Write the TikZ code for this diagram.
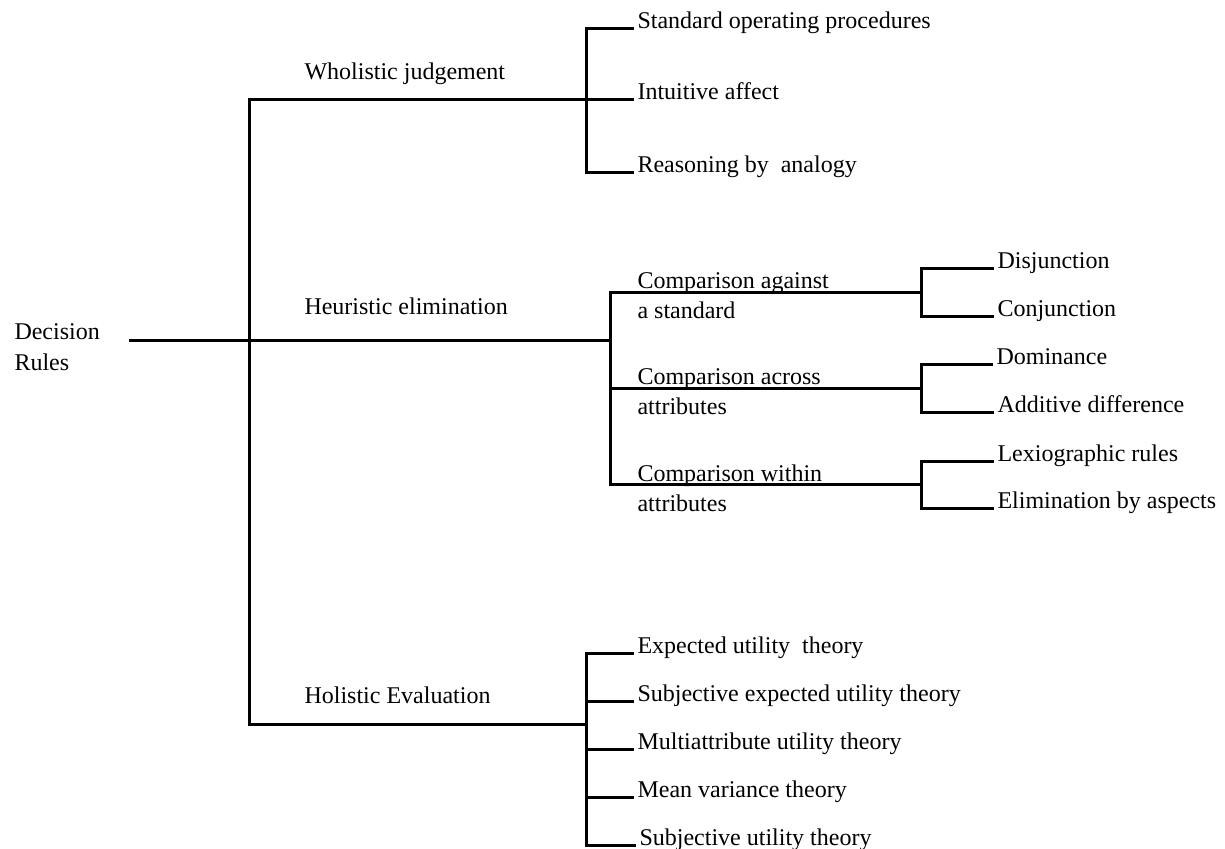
\documentclass[tikz,border=0pt]{standalone}
\usepackage{fontspec}
\setmainfont{Liberation Serif}
\begin{document}
\begin{tikzpicture}[x=0.5pt,y=-0.5pt,line width=1.5pt,line cap=rect,
    every node/.style={inner sep=0pt,font=\fontsize{12}{15}\selectfont},
    leaf/.style={anchor=base west},
    twoline/.style={anchor=west,align=left}]
  \useasboundingbox (0,0) rectangle (1225,849);
  % root and trunk
  \node[twoline,font=\fontsize{12}{15.5}\selectfont] (rules) at (13,347) {Decision\\Rules};
  \coordinate (rootend) at (130,341);
  \coordinate (trunktop) at (249,100);
  \coordinate (trunkbot) at (249,724);
  \coordinate (wj) at (586,100);
  \coordinate (he) at (610,341);
  \coordinate (hv) at (586,724);
  \node[leaf] (wlab) at (303,80) {Wholistic judgement};
  \node[leaf] (hlab) at (303,315) {Heuristic elimination};
  \node[leaf] (vlab) at (303,703) {Holistic Evaluation};
  \draw (rootend) -- (he);
  \draw (trunktop) -- (trunkbot);
  \draw (trunktop) -- (wj);
  \draw (trunkbot) -- (hv);
  % wholistic judgement
  \node[leaf] (sop) at (636,29) {Standard operating procedures};
  \node[leaf] (ia) at (636,100) {Intuitive affect};
  \node[leaf] (rba) at (636,173) {Reasoning by~ analogy};
  \draw (wj |- sop.base) -- (wj |- rba.base);
  \foreach \n in {sop,ia,rba}
    \draw (wj |- \n.base) -- ([xshift=-2pt]\n.base west);
  % heuristic elimination
  \coordinate (sa) at (921,293);
  \coordinate (sc) at (921,389);
  \coordinate (sw) at (921,485);
  \node[twoline] (cag) at (636,296) {Comparison against\\ a standard};
  \node[twoline] (cac) at (636,392) {Comparison across\\attributes};
  \node[twoline] (cwi) at (636,488) {Comparison within\\attributes};
  \draw (he |- sa) -- (he |- sw);
  \foreach \c in {sa,sc,sw}
    \draw (he |- \c) -- (\c);
  \node[leaf] (dis) at (996,269) {Disjunction};
  \node[leaf] (con) at (996,317) {Conjunction};
  \node[leaf] (dom) at (995,365) {Dominance};
  \node[leaf] (add) at (996,413) {Additive difference};
  \node[leaf] (lex) at (996,462) {Lexiographic rules};
  \node[leaf] (eba) at (996,509) {Elimination by aspects};
  \foreach \c/\a/\b in {sa/dis/con,sc/dom/add,sw/lex/eba}{
    \draw (\c |- \a.base) -- (\c |- \b.base);
    \draw (\c |- \a.base) -- ([xshift=-2pt]\a.base west);
    \draw (\c |- \b.base) -- ([xshift=-2pt]\b.base west);
  }
  % holistic evaluation
  \node[leaf] (eut) at (636,653) {Expected utility~ theory};
  \node[leaf] (seu) at (636,701) {Subjective expected utility theory};
  \node[leaf] (mau) at (636,749) {Multiattribute utility theory};
  \node[leaf] (mvt) at (636,797) {Mean variance theory};
  \node[leaf] (sut) at (638,845) {Subjective utility theory};
  \draw (hv |- eut.base) -- (hv |- sut.base);
  \foreach \n in {eut,seu,mau,mvt,sut}
    \draw (hv |- \n.base) -- ([xshift=-2pt]\n.base west);
\end{tikzpicture}
\end{document}
